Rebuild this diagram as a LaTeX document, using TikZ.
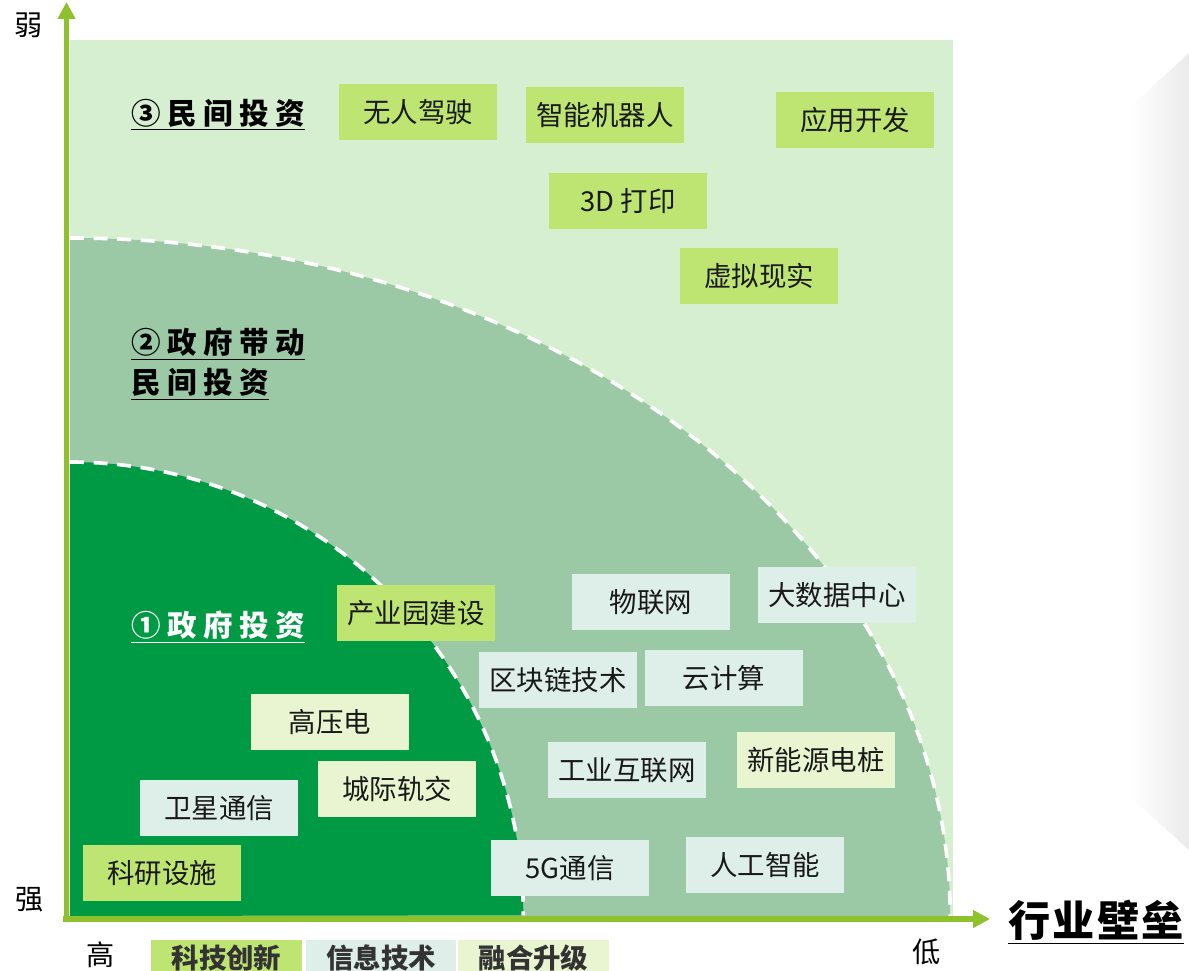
\documentclass[tikz,border=0pt]{standalone}
\usepackage{fontspec}
\setmainfont{Noto Sans CJK SC}
\usetikzlibrary{arrows.meta}
\definecolor{axisgreen}{RGB}{141,194,45}
\definecolor{zonelight}{RGB}{213,239,208}
\definecolor{zonemid}{RGB}{155,201,165}
\definecolor{zonedark}{RGB}{0,154,68}
\definecolor{techlime}{RGB}{190,228,114}
\definecolor{infogrey}{RGB}{222,238,232}
\definecolor{fusecream}{RGB}{232,245,208}

\begin{document}
\begin{tikzpicture}
[x=0.025cm,y=-0.025cm,%
  box/.style={minimum width=3.95cm,minimum height=1.4cm,inner sep=0pt,text=black!90,font=\fontsize{19.5}{22}\selectfont},%
  tech/.style={box,fill=techlime},%
  info/.style={box,fill=infogrey},%
  fuse/.style={box,fill=fusecream},%
  legend/.style={minimum width=3.75cm,minimum height=0.9cm,inner sep=0pt,text=black!80,font=\fontsize{19.5}{22}\selectfont\bfseries},%
  head/.style={anchor=west,inner sep=0pt,align=left,font=\fontsize{21}{28.5}\selectfont\bfseries\addfontfeature{LetterSpace=22}},%
  tag/.style={inner sep=0pt,font=\fontsize{20}{22}\selectfont},%
  border/.style={white,line width=2.6pt,dash pattern=on 0.35cm off 0.24cm},%
  axis/.style={axisgreen,line width=3.6pt,-{Triangle[length=0.42cm,width=0.42cm]}}]
\useasboundingbox (0,0) rectangle (1189,971);

% zones
\fill[zonelight] (70,40) rectangle (953,916);
\fill[zonemid] (70,916) -- (70,238) arc[start angle=90,end angle=0,x radius=22cm,y radius=16.95cm] -- cycle;
\draw[border] (70,238) arc[start angle=90,end angle=0,x radius=22cm,y radius=16.95cm];
\fill[zonedark] (70,916) -- (70,462) arc[start angle=90,end angle=0,radius=11.33cm] -- cycle;
\draw[border] (70,462) arc[start angle=90,end angle=0,radius=11.33cm];

% faint panel at the right
\shade[left color=white,right color=black!8] (1130,107) -- (1189,53) -- (1189,850) -- (1130,797) -- cycle;

% headings
\node[head] (private) at (131,115) {\underline{③民间投资}};
\node[head] (mixed) at (131,364) {\underline{②政府带动}\\\underline{民间投资}};
\node[head,text=white] (public) at (131,627) {\underline{①政府投资}};

% private investment
\node[tech] (autodrive) at (418,112) {无人驾驶};
\node[tech] (robot) at (605,115) {智能机器人};
\node[tech] (appdev) at (855,120) {应用开发};
\node[tech] (print3d) at (628,201) {3D 打印};
\node[tech] (vr) at (759,276) {虚拟现实};

% government led
\node[info] (iot) at (651,602) {物联网};
\node[info] (bigdata) at (837,595) {大数据中心};
\node[info] (chain) at (558,680) {区块链技术};
\node[info] (cloud) at (724,678) {云计算};
\node[info] (indnet) at (627,770) {工业互联网};
\node[fuse] (charger) at (816,760) {新能源电桩};
\node[info] (fiveg) at (570,868) {5G通信};
\node[info] (ai) at (765,865) {人工智能};

% government investment
\node[tech] (park) at (416,613) {产业园建设};
\node[fuse] (hv) at (330,722) {高压电};
\node[fuse] (rail) at (397,789) {城际轨交};
\node[info] (sat) at (219,808) {卫星通信};
\node[tech] (lab) at (162,873) {科研设施};

% axes
\coordinate (origin) at (66.5,919);
\coordinate (ytip) at (66.5,2);
\coordinate (xtip) at (990,919);
\draw[axis] (origin) -- (ytip);
\draw[axis] ([xshift=-2.5pt]origin) -- (xtip);
\node[tag] (weak) at (29,25) {弱};
\node[tag] (strong) at (30,900) {强};
\node[tag] (high) at (101,955) {高};
\node[tag] (low) at (927,952) {低};
\node[inner sep=0pt,font=\fontsize{30}{32}\selectfont\bfseries\addfontfeature{LetterSpace=5}] (barrier) at (1096,922) {\underline{行业壁垒}};

% legend
\node[legend,fill=techlime] (legtech) at (226.5,958) {科技创新};
\node[legend,fill=infogrey] (leginfo) at (381,958) {信息技术};
\node[legend,fill=fusecream] (legfuse) at (533.5,958) {融合升级};
\end{tikzpicture}
\end{document}
